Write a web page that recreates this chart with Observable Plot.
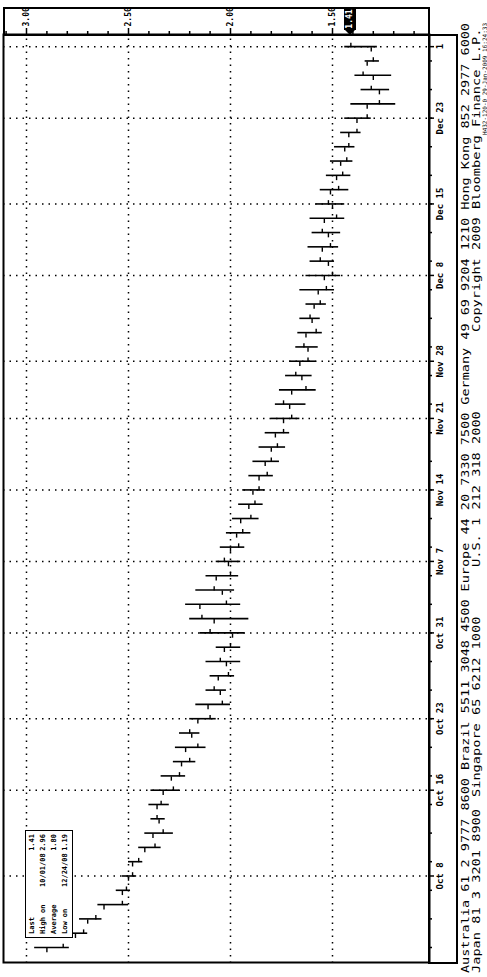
<!DOCTYPE html>
<html><head><meta charset="utf-8">
<script src="https://cdn.jsdelivr.net/npm/d3@7"></script>
<script src="https://cdn.jsdelivr.net/npm/@observablehq/plot@0.6"></script>
<style>
html,body{margin:0;padding:0;background:#fff;overflow:hidden;width:487px;height:977px;}
#rot{position:absolute;left:0;top:0;width:977px;height:487px;transform-origin:0 0;transform:translateY(977px) rotate(-90deg);font-family:"DejaVu Sans Mono",monospace;color:#000;}
#rot svg{position:absolute;left:0;top:0;overflow:visible;}
.box{position:absolute;box-sizing:border-box;border:2px solid #000;}
#legend{position:absolute;left:39px;top:25px;width:108px;height:48px;box-sizing:border-box;border:1.5px solid #000;background:#fff;font:bold 7px "DejaVu Sans Mono",monospace;}
#legend div{position:absolute;left:0;right:0;height:11px;line-height:11px;}
#legend span{position:absolute;top:0;}
#last{position:absolute;width:22px;height:12px;background:#000;color:#fff;font:bold 8px "DejaVu Sans Mono",monospace;line-height:12px;text-align:center;}
#lastptr{position:absolute;width:0;height:0;border-top:5px solid transparent;border-bottom:5px solid transparent;border-right:5px solid #000;}
</style></head>
<body><div id="rot"></div>
<script>
// ---- data (trading days, Oct 1 2008 .. Dec 31 2008) ----
const dates = ["2008-10-01","2008-10-02","2008-10-03","2008-10-06","2008-10-07","2008-10-08","2008-10-09","2008-10-10",
"2008-10-13","2008-10-14","2008-10-15","2008-10-16","2008-10-17","2008-10-20","2008-10-21","2008-10-22","2008-10-23","2008-10-24",
"2008-10-27","2008-10-28","2008-10-29","2008-10-30","2008-10-31","2008-11-03","2008-11-04","2008-11-05","2008-11-06","2008-11-07",
"2008-11-10","2008-11-11","2008-11-12","2008-11-13","2008-11-14","2008-11-17","2008-11-18","2008-11-19","2008-11-20","2008-11-21",
"2008-11-24","2008-11-25","2008-11-26","2008-11-28","2008-12-01","2008-12-02","2008-12-03","2008-12-04","2008-12-05",
"2008-12-08","2008-12-09","2008-12-10","2008-12-11","2008-12-12","2008-12-15","2008-12-16","2008-12-17","2008-12-18","2008-12-19",
"2008-12-22","2008-12-23","2008-12-24","2008-12-26","2008-12-29","2008-12-30","2008-12-31"];
const highs = [2.96,2.78,2.74,2.65,2.56,2.53,2.50,2.45,2.42,2.39,2.40,2.39,2.34,2.28,2.27,2.25,2.20,2.17,2.12,2.10,2.12,2.07,2.15,2.20,2.22,2.17,2.12,2.07,2.05,2.02,1.99,1.96,1.94,1.91,1.89,1.86,1.83,1.80,1.78,1.76,1.73,1.71,1.68,1.67,1.66,1.63,1.66,1.63,1.61,1.62,1.60,1.61,1.58,1.56,1.53,1.51,1.49,1.46,1.44,1.41,1.36,1.39,1.34,1.44];
const lows  = [2.79,2.70,2.63,2.50,2.49,2.46,2.43,2.34,2.28,2.32,2.30,2.25,2.22,2.17,2.12,2.15,2.07,2.00,2.02,1.98,1.95,1.95,1.93,1.91,1.95,1.98,1.96,1.95,1.93,1.90,1.86,1.84,1.83,1.79,1.76,1.73,1.71,1.66,1.63,1.58,1.60,1.58,1.57,1.55,1.56,1.53,1.49,1.46,1.49,1.47,1.46,1.44,1.44,1.42,1.41,1.40,1.39,1.36,1.31,1.19,1.22,1.21,1.27,1.28];
const opens = [2.90,2.76,2.70,2.62,2.53,2.50,2.48,2.42,2.38,2.35,2.36,2.33,2.29,2.24,2.22,2.19,2.16,2.11,2.05,2.06,2.02,2.03,1.99,2.08,2.15,2.04,2.07,2.01,2.00,1.97,1.95,1.91,1.89,1.86,1.83,1.80,1.78,1.74,1.71,1.70,1.65,1.66,1.62,1.63,1.60,1.59,1.57,1.54,1.52,1.55,1.52,1.54,1.50,1.51,1.48,1.46,1.44,1.42,1.38,1.33,1.27,1.30,1.33,1.31];
const closes= [2.82,2.72,2.66,2.53,2.51,2.48,2.45,2.37,2.33,2.36,2.34,2.28,2.25,2.20,2.16,2.20,2.10,2.04,2.08,2.01,2.05,2.00,2.10,2.14,2.02,2.08,2.00,2.03,1.96,1.94,1.90,1.88,1.86,1.82,1.80,1.77,1.74,1.70,1.74,1.63,1.68,1.62,1.64,1.58,1.61,1.56,1.53,1.50,1.56,1.51,1.55,1.48,1.52,1.47,1.45,1.43,1.42,1.38,1.33,1.27,1.31,1.35,1.30,1.41];
const tickDates  = ["2008-10-08","2008-10-16","2008-10-23","2008-10-31","2008-11-07","2008-11-14","2008-11-21","2008-11-28","2008-12-08","2008-12-15","2008-12-23","2008-12-31"];
const tickLabels = ["Oct 8","Oct 16","Oct 23","Oct 31","Nov 7","Nov 14","Nov 21","Nov 28","Dec 8","Dec 15","Dec 23","1"];
const priceTicks = [1.5, 2.0, 2.5, 3.0];
const minorPrice = [1.1,1.2,1.3,1.4,1.6,1.7,1.8,1.9,2.1,2.2,2.3,2.4,2.6,2.7,2.8,2.9,3.1];
const legendRows = [["Last","","1.41"],["High on","10/01/08","2.96"],["Average","","1.80"],["Low on","12/24/08","1.19"]];
const lastPrice = 1.41;
const footer1 = "Australia 61 2 9777 8600 Brazil 5511 3048 4500 Europe 44 20 7330 7500 Germany 49 69 9204 1210 Hong Kong 852 2977 6000";
const footer2 = ["Japan 81 3 3201 8900","Singapore 65 6212 1000","U.S. 1 212 318 2000","Copyright 2009 Bloomberg Finance L.P."];
const footer3 = "H432-120-0 29-Jan-2009 16:24:33";

// ---- build ----
const bars = dates.map((d, i) => ({date: d, i, high: highs[i], low: lows[i], open: opens[i], close: closes[i]}));
const tickIdx = tickDates.map(d => dates.indexOf(d));
const minorIdx = dates.map((d, i) => i).filter(i => i % 2 === 0);

const plot = Plot.plot({
  width: 977, height: 458,
  marginLeft: 14, marginRight: 35, marginTop: 3, marginBottom: 29,
  x: {type: "linear", domain: [-1.05, 63.85], axis: null, label: null},
  y: {type: "linear", domain: [1.0245, 3.1127], axis: null, label: null},
  style: {background: "transparent", fontFamily: "DejaVu Sans Mono", fontSize: "8px", fontWeight: "bold", color: "#000"},
  marks: [
    Plot.ruleY(priceTicks, {stroke: "#000", strokeWidth: 1.5, strokeDasharray: "1.5,5"}),
    Plot.ruleX(tickIdx, {stroke: "#000", strokeWidth: 1.5, strokeDasharray: "1.5,5"}),
    Plot.ruleX(bars, {x: "i", y1: "low", y2: "high", stroke: "#000", strokeWidth: 1.6}),
    Plot.ruleY(bars, {y: "open", x1: d => d.i - 0.3, x2: "i", stroke: "#000", strokeWidth: 1.4}),
    Plot.ruleY(bars, {y: "close", x1: "i", x2: d => d.i + 0.3, stroke: "#000", strokeWidth: 1.4}),
    Plot.axisY({anchor: "right", label: null, ticks: minorPrice, tickSize: 3, tickFormat: () => "", strokeWidth: 1.5}),
    Plot.axisY({anchor: "right", label: null, ticks: priceTicks, tickSize: 6, tickPadding: 2, tickFormat: d3.format(".2f"), strokeWidth: 1.5, fontWeight: "bold"}),
    Plot.axisX({anchor: "bottom", label: null, ticks: minorIdx, tickSize: 3, tickFormat: () => "", strokeWidth: 1.5}),
    Plot.axisX({anchor: "bottom", label: null, ticks: tickIdx, tickSize: 5, tickPadding: 2, tickFormat: d => tickLabels[tickIdx.indexOf(d)], strokeWidth: 1.5, fontWeight: "bold", fontSize: 9}),
    Plot.frame({stroke: "#000", strokeWidth: 2})
  ]
});

const rot = document.getElementById("rot");
const pbox = document.createElement("div"); pbox.className = "box";
Object.assign(pbox.style, {left: "941px", top: "3px", width: "29px", height: "427px"});
rot.appendChild(pbox);
const dbox = document.createElement("div"); dbox.className = "box";
Object.assign(dbox.style, {left: "13px", top: "428px", width: "930px", height: "30px"});
rot.appendChild(dbox);
rot.appendChild(plot);

// legend
const leg = document.createElement("div"); leg.id = "legend";
legendRows.forEach((r, k) => {
  const row = document.createElement("div");
  row.style.top = (1 + k * 11) + "px";
  row.innerHTML = `<span style="left:3px">${r[0]}</span><span style="left:50px">${r[1]}</span><span style="right:3px">${r[2]}</span>`;
  leg.appendChild(row);
});
rot.appendChild(leg);

// last price marker
const yPos = plot.scale("y").apply(lastPrice);
const last = document.createElement("div"); last.id = "last";
last.textContent = lastPrice.toFixed(2);
Object.assign(last.style, {left: "947px", top: (yPos - 6) + "px"});
rot.appendChild(last);
const ptr = document.createElement("div"); ptr.id = "lastptr";
Object.assign(ptr.style, {left: "942px", top: (yPos - 5) + "px"});
rot.appendChild(ptr);

// footer
const fsvg = d3.select(rot).append("svg").attr("width", 977).attr("height", 487)
  .style("font-family", "DejaVu Sans Mono").style("font-size", "11px");
fsvg.append("text").attr("x", 4).attr("y", 469).attr("textLength", 950).attr("lengthAdjust", "spacingAndGlyphs").text(footer1);
const f2x = [4, 180, 410, 645];
footer2.forEach((t, k) => {
  fsvg.append("text").attr("x", f2x[k]).attr("y", 480).attr("textLength", t.length * 8.2).attr("lengthAdjust", "spacingAndGlyphs").text(t);
});
fsvg.append("text").attr("x", 954).attr("y", 486.5).attr("text-anchor", "end").style("font-size", "6px").text(footer3);
</script>
</body></html>
